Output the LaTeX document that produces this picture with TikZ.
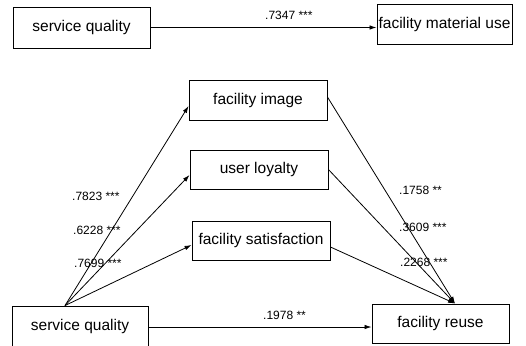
\documentclass[tikz,border=0pt]{standalone}
\usepackage{fontspec}
\setmainfont{Liberation Sans}
\usepackage{tikz}
\usetikzlibrary{arrows.meta,calc,positioning}

\begin{document}
\begin{tikzpicture}[x=1pt,y=-1pt,>={Latex[length=7pt,width=4.5pt]},
  box/.style={draw,line width=0.9pt,inner sep=0pt,minimum height=40pt,font=\fontsize{15.5}{18}\selectfont},
  coef/.style={inner sep=0pt,anchor=west,font=\fontsize{12}{14}\selectfont}]
  \useasboundingbox (0,0) rectangle (526,345);
  % top model
  \node[box,minimum width=137pt,minimum height=41pt] (sqa) at (81.5,27.5) {service quality};
  \node[box,minimum width=135pt] (fmu) at (444.5,24) {facility material use};
  \draw[->,line width=0.8pt] (sqa.east) -- (sqa.east -| fmu.west);
  \node[coef] (cma) at (265,15) {.7347 ***};
  % mediation model
  \node[box,minimum width=138pt] (fim) at (258,100) {facility image};
  \node[box,minimum width=138pt,minimum height=39pt] (ulo) at (259,169.5) {user loyalty};
  \node[box,minimum width=138pt,minimum height=39pt] (fsa) at (261,240.5) {facility satisfaction};
  \node[box,minimum width=136pt,minimum height=41pt] (sqb) at (80,326.5) {service quality};
  \node[box,minimum width=137pt,minimum height=39pt] (fre) at (440.5,323.5) {facility reuse};
  \coordinate (src) at ($(sqb.north)+(-15,0)$);
  \coordinate (dst) at ($(fre.north)+(14.5,0)$);
  \draw[->,line width=0.8pt] (src) -- ($(fim.west)+(0,6)$);
  \draw[->,line width=0.8pt] (src) -- ($(ulo.west)+(0,5.5)$);
  \draw[->,line width=0.8pt] (src) -- ($(fsa.west)+(0,4.5)$);
  \draw[->,line width=0.8pt] ($(fim.east)+(0,-3)$) -- (dst);
  \draw[->,line width=0.8pt] (ulo.east) -- (dst);
  \draw[->,line width=0.8pt] ($(fsa.east)+(0,6.5)$) -- (dst);
  \draw[->,line width=0.8pt] (sqb.east |- 0,327) -- (fre.west |- 0,327);
  \node[coef] (cfi) at (72,196) {.7823 ***};
  \node[coef] (cul) at (73,230) {.6228 ***};
  \node[coef] (cfs) at (74,263) {.7699 ***};
  \node[coef] (dfi) at (399,190) {.1758 **};
  \node[coef] (dul) at (399,227) {.3609 ***};
  \node[coef] (dfs) at (400,262) {.2268 ***};
  \node[coef] (cdi) at (263,315) {.1978 **};
\end{tikzpicture}
\end{document}
